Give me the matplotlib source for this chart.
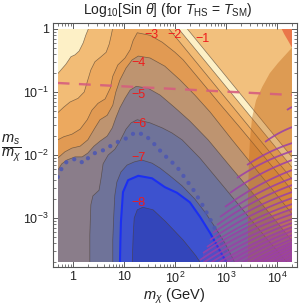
import numpy as np
import matplotlib
matplotlib.use('Agg')
import matplotlib.pyplot as plt
from matplotlib.patches import Polygon, Rectangle
from matplotlib.ticker import FixedLocator, FuncFormatter, NullFormatter

plt.rcParams['font.family'] = ['Liberation Sans', 'DejaVu Sans']
plt.rcParams['mathtext.fontset'] = 'custom'
plt.rcParams['mathtext.rm'] = 'Liberation Sans'
plt.rcParams['mathtext.it'] = 'Liberation Sans:italic'
plt.rcParams['mathtext.bf'] = 'Liberation Sans:bold'

# ---------------- data (log10 m_chi [GeV], log10 m_s/m_chi) ----------------
x_range = [-0.301, 4.301]
y_range = [-3.70, 0.0]

levels = [0, -1, -2, -3, -4, -5, -6, -7, -7.5, -8]

cont_0 = [(-0.30, 0.30), (1.94, 0.30), (4.30, -2.04)]
cont_m1 = [(-0.30, -0.71), (-0.14, -0.56), (-0.04, -0.44), (0.04, -0.41), (0.12, -0.35),
           (0.20, -0.22), (0.25, -0.10), (0.31, 0.02), (0.36, 0.30), (1.77, 0.30), (4.30, -2.20)]
cont_m2 = [(-0.30, -1.33), (-0.18, -1.24), (-0.06, -1.16), (0.10, -1.10), (0.22, -1.00),
           (0.29, -0.81), (0.35, -0.65), (0.43, -0.52), (0.55, -0.44), (0.65, -0.37),
           (0.71, -0.24), (0.75, -0.10), (0.78, 0.02), (0.81, 0.30), (1.58, 0.30), (4.30, -2.39)]
cont_m3 = [(-0.30, -1.76), (-0.18, -1.71), (-0.02, -1.67), (0.14, -1.59), (0.28, -1.44),
           (0.37, -1.29), (0.49, -1.18), (0.63, -1.11), (0.73, -0.94), (0.78, -0.75),
           (0.88, -0.57), (1.02, -0.46), (1.12, -0.33), (1.18, -0.18), (1.26, -0.06),
           (1.51, -0.10), (1.75, -0.21), (2.00, -0.37), (2.16, -0.49), (2.49, -0.81),
           (2.88, -1.19), (3.28, -1.57), (3.67, -1.95), (4.30, -2.57)]
cont_m4 = [(-0.30, -2.05), (-0.16, -1.95), (-0.02, -1.89), (0.14, -1.86), (0.29, -1.76),
           (0.43, -1.57), (0.53, -1.44), (0.67, -1.37), (0.78, -1.21), (0.84, -1.00),
           (0.92, -0.81), (1.04, -0.62), (1.16, -0.49), (1.28, -0.43), (1.51, -0.46),
           (1.80, -0.59), (2.10, -0.81), (2.39, -1.05), (2.69, -1.32), (3.12, -1.76),
           (3.57, -2.21), (3.96, -2.60), (4.30, -2.94)]
cont_m5 = [(-0.30, -2.24), (-0.22, -2.14), (-0.12, -2.08), (0.04, -2.03), (0.18, -2.03),
           (0.29, -1.97), (0.41, -1.86), (0.53, -1.78), (0.67, -1.70), (0.77, -1.57),
           (0.84, -1.41), (0.92, -1.25), (1.02, -1.10), (1.12, -0.97), (1.24, -0.91),
           (1.47, -0.94), (1.71, -1.05), (2.00, -1.25), (2.29, -1.46), (2.65, -1.76),
           (3.08, -2.18), (3.57, -2.65), (3.96, -3.03), (4.30, -3.37)]
cont_m6 = [(0.33, -3.75), (0.33, -3.27), (0.35, -2.79), (0.39, -2.65), (0.51, -2.56),
           (0.55, -2.37), (0.59, -2.14), (0.69, -2.00), (0.82, -1.91), (0.92, -1.78),
           (1.04, -1.59), (1.14, -1.49), (1.26, -1.44), (1.51, -1.49), (1.75, -1.57),
           (1.94, -1.65), (2.14, -1.76), (2.49, -2.05), (2.88, -2.43), (3.37, -2.91),
           (3.82, -3.35), (4.25, -3.75)]
cont_m7 = [(0.78, -3.75), (0.78, -3.35), (0.80, -2.95), (0.82, -2.64), (0.86, -2.43),
           (0.94, -2.27), (1.06, -2.16), (1.20, -2.11), (1.35, -2.08), (1.55, -2.13),
           (1.71, -2.21), (1.90, -2.33), (2.14, -2.49), (2.39, -2.70), (2.59, -2.91),
           (2.78, -3.14), (2.98, -3.40), (3.20, -3.75)]
cont_m75 = [(0.92, -3.75), (0.93, -3.35), (0.94, -3.06), (0.98, -2.59), (1.08, -2.40),
            (1.28, -2.33), (1.55, -2.37), (1.80, -2.51), (2.04, -2.60), (2.29, -2.75),
            (2.49, -2.98), (2.69, -3.24), (2.84, -3.46), (3.04, -3.75)]
cont_m8 = [(1.16, -3.75), (1.18, -3.27), (1.20, -3.00), (1.26, -2.87), (1.37, -2.83),
           (1.57, -2.87), (1.82, -3.06), (2.16, -3.35), (2.41, -3.60), (2.53, -3.75)]

band_colors = ['#F2C07D', '#FDF0C6', '#F2BC76', '#ECA95F', '#E19A53', '#BE9470',
               '#8A7D8A', '#6F7399', '#5464B0', '#3D52CF', '#3345BA']

dotted_x = [-0.30, -0.22, -0.16, -0.06, 0.08, 0.20, 0.33, 0.49, 0.63, 0.73, 0.82, 0.92,
            1.06, 1.22, 1.41, 1.61, 1.75, 2.04, 2.35, 2.55, 2.75, 2.88, 3.02]
dotted_y = [-2.35, -2.21, -2.13, -2.08, -2.06, -2.13, -2.02, -1.94, -1.92, -1.86, -1.81, -1.78,
            -1.73, -1.64, -1.68, -1.84, -1.97, -2.19, -2.54, -2.81, -3.11, -3.35, -3.59]

dashed_x = [-0.30, 1.00, 2.00, 3.00, 4.30]
dashed_y = [-0.857, -0.911, -0.952, -0.994, -1.048]

arc_x = [3.43, 3.43, 3.45, 3.47, 3.51, 3.59, 3.71, 3.86, 4.02, 4.20, 4.29, 4.37, 4.45, 4.45]
arc_y = [-3.75, -2.71, -2.08, -1.76, -1.41, -1.13, -0.92, -0.70, -0.54, -0.38, -0.30, -0.22, -0.15, -3.75]

corner_x = [4.08, 4.14, 4.22, 4.29, 4.45, 4.45]
corner_y = [0.02, -0.08, -0.19, -0.29, -0.29, 0.05]

hatch_x0 = [4.196, 3.765, 3.412, 3.216, 3.078, 2.980, 2.882, 2.824, 2.745, 2.686, 2.627, 2.549,
            2.490, 2.431, 2.373, 2.314, 2.255, 2.196, 2.137, 2.078, 2.020, 1.961, 1.902, 1.843,
            1.784, 1.725]
hatch_y0 = [-1.286, -1.794, -2.159, -2.365, -2.603, -2.825, -2.984, -3.111, -3.238, -3.349,
            -3.460, -3.556, -3.667, -3.778, -3.889, -4.000, -4.111, -4.222, -4.333, -4.444,
            -4.556, -4.667, -4.778, -4.889, -5.000, -5.111]
hatch_y1 = [-1.238, -1.556, -1.810, -1.937, -2.079, -2.238, -2.365, -2.476, -2.587, -2.683,
            -2.778, -2.857, -2.937, -3.016, -3.079, -3.143, -3.206, -3.270, -3.333, -3.381,
            -3.429, -3.476, -3.524, -3.571, -3.619, -3.667]

label_text = ['\u22121', '\u22122', '\u22123', '\u22124', '\u22125', '\u22126', '\u22127', '\u22128']
label_x = [2.53, 2.00, 1.54, 1.29, 1.29, 1.31, 1.29, 1.29]
label_y = [-0.16, -0.10, -0.10, -0.54, -1.05, -1.51, -2.05, -2.76]

x_major = [1, 10, 100, 1000, 10000]
y_major = [1e-3, 1e-2, 1e-1, 1]

# ---------------- figure ----------------
fig = plt.figure(figsize=(3.0, 3.07), dpi=100)
ax = fig.add_axes([53 / 300, 40 / 307, 244 / 300, 244 / 307])
ax.set_xscale('log')
ax.set_yscale('log')
ax.set_xlim(10 ** -0.392, 10 ** 4.392)
ax.set_ylim(10 ** -3.778, 10 ** 0.095)

X0, X1 = 10 ** x_range[0], 10 ** x_range[1]
Y0, Y1 = 10 ** y_range[0], 10 ** y_range[1]
clip = Rectangle((X0, Y0), X1 - X0, Y1 - Y0, transform=ax.transData,
                 facecolor='none', edgecolor='none')


def P(pts):
    return np.array([[10 ** a, 10 ** b] for a, b in pts])


def add_poly(pts, **kw):
    p = Polygon(P(pts), closed=True, **kw)
    ax.add_patch(p)
    p.set_clip_path(clip)
    return p


add_poly([(x_range[0], y_range[0]), (x_range[1], y_range[0]),
          (x_range[1], y_range[1]), (x_range[0], y_range[1])],
         facecolor=band_colors[0], edgecolor='none', zorder=1)

contours = [cont_0, cont_m1, cont_m2, cont_m3, cont_m4, cont_m5, cont_m6, cont_m7, cont_m75, cont_m8]
for i, c in enumerate(contours):
    poly = list(c) + [(c[-1][0], -6.0), (c[0][0], -6.0)]
    add_poly(poly, facecolor=band_colors[i + 1], edgecolor='none', zorder=2)

for lev, c in zip(levels, contours):
    a = np.array(c)
    if lev == -7.5:
        ln, = ax.plot(10 ** a[:, 0], 10 ** a[:, 1], color='#1B2FF2', lw=1.5, zorder=4)
    else:
        ln, = ax.plot(10 ** a[:, 0], 10 ** a[:, 1], color='#4a3c30', lw=0.5, alpha=0.65, zorder=3)
    ln.set_clip_path(clip)

add_poly(list(zip(arc_x, arc_y)), facecolor='#BE6414', alpha=0.40, edgecolor='none', zorder=5)
add_poly(list(zip(corner_x, corner_y)), facecolor='#EA764A', edgecolor='none', zorder=5)

ln, = ax.plot(10 ** np.array(dotted_x), 10 ** np.array(dotted_y), color='#4E58B2', lw=3.1,
              ls=(0, (0.01, 2.0)), dash_capstyle='round', alpha=0.9, zorder=6)
ln.set_clip_path(clip)

ln, = ax.plot(10 ** np.array(dashed_x), 10 ** np.array(dashed_y), color='#D65E7E', lw=1.7,
              ls=(0, (5.0, 4.0)), alpha=0.9, zorder=6)
ln.set_clip_path(clip)


def hatch_curve(xs, ys, ye):
    p0 = np.array([xs, ys])
    p2 = np.array([x_range[1], ye])
    d = p2 - p0
    ctrl = (p0 + p2) / 2 + 0.06 * np.array([-d[1], d[0]])
    t = np.linspace(0, 1, 30)[:, None]
    return (1 - t) ** 2 * p0 + 2 * (1 - t) * t * ctrl + t ** 2 * p2


for k, alpha in [(11, 0.22), (15, 0.35), (19, 0.45)]:
    cv = hatch_curve(hatch_x0[k], hatch_y0[k], hatch_y1[k])
    pts = [tuple(p) for p in cv] + [(x_range[1] + 0.1, -6.0), (hatch_x0[k], -6.0)]
    add_poly(pts, facecolor='#A0409E', alpha=alpha, edgecolor='none', zorder=7)

for xs, ys, ye in zip(hatch_x0, hatch_y0, hatch_y1):
    cv = hatch_curve(xs, ys, ye)
    ln, = ax.plot(10 ** cv[:, 0], 10 ** cv[:, 1], color='#9B3FA8', lw=1.3,
                  alpha=0.85, zorder=8, solid_capstyle='butt')
    ln.set_clip_path(clip)

for t_, lx, ly in zip(label_text, label_x, label_y):
    ax.text(10 ** lx, 10 ** ly, t_, color='#EE1C1C', fontsize=9, ha='center', va='center', zorder=9)


def fmt(v, pos):
    e = int(round(np.log10(v)))
    if e == 0:
        return '1'
    if e == 1:
        return '10'
    return r'$10^{%d}$' % e


ax.xaxis.set_major_locator(FixedLocator(x_major))
ax.yaxis.set_major_locator(FixedLocator(y_major))
xminor = [m * 10.0 ** e for e in range(-1, 5) for m in range(2, 10)]
yminor = [m * 10.0 ** e for e in range(-4, 1) for m in range(2, 10)]
ax.xaxis.set_minor_locator(FixedLocator(xminor))
ax.yaxis.set_minor_locator(FixedLocator(yminor))
ax.xaxis.set_major_formatter(FuncFormatter(fmt))
ax.yaxis.set_major_formatter(FuncFormatter(fmt))
ax.xaxis.set_minor_formatter(NullFormatter())
ax.yaxis.set_minor_formatter(NullFormatter())
ax.tick_params(which='both', direction='in', top=True, right=True, colors='#444444',
               labelcolor='#222222', labelsize=9, pad=3)
ax.tick_params(which='major', length=4, width=0.6)
ax.tick_params(which='minor', length=2, width=0.5)
for s in ax.spines.values():
    s.set_color('#555555')
    s.set_linewidth(0.8)

fig.text(168 / 300, 1 - 10 / 307, r'Log$_{10}$[Sin $\theta$] (for $T_{\rm HS}$ = $T_{\rm SM}$)',
         ha='center', va='center', fontsize=10, color='#222222')
fig.text(174 / 300, 1 - 296 / 307, r'$m_\chi$ (GeV)', ha='center', va='center',
         fontsize=10.5, color='#222222')
fig.text(11 / 300, 1 - 148 / 307, r'$\dfrac{m_s}{m_\chi}$', ha='center', va='center',
         fontsize=10.5, color='#222222')

fig.savefig('out.png', dpi=100)
